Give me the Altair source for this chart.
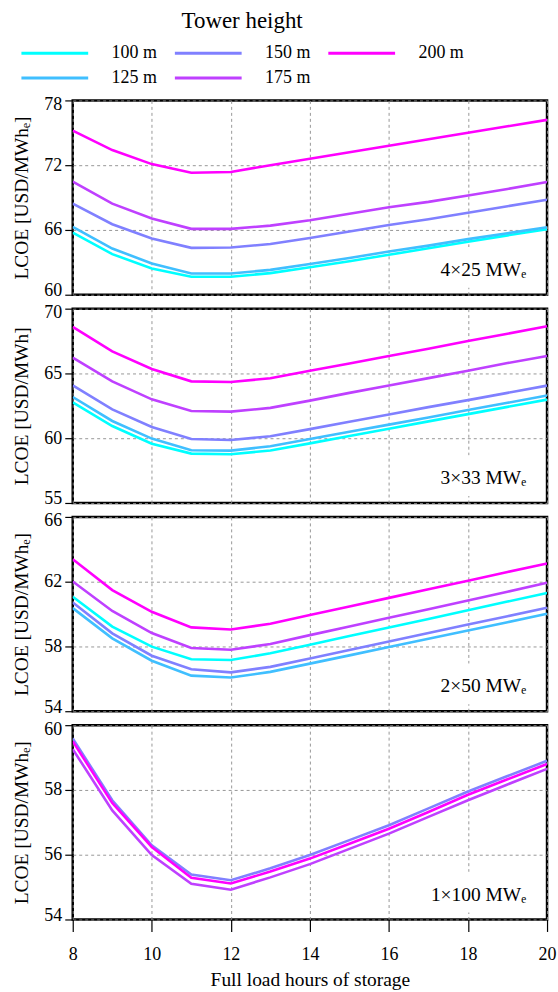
import altair as alt
import pandas as pd

FONT = "Liberation Serif, DejaVu Serif"

hours = list(range(8, 21))
heights = ["100 m", "125 m", "150 m", "175 m", "200 m"]
colors = ["#00FFFF", "#40BFFF", "#8080FF", "#BF40FF", "#FF00FF"]

# Panel 1: 4x25 MWe
p1_100 = [65.76, 63.76, 62.43, 61.66, 61.66, 62.0, 62.55, 63.1, 63.7, 64.3, 64.9, 65.5, 66.07]
p1_125 = [66.29, 64.28, 62.9, 61.97, 61.97, 62.3, 62.85, 63.4, 64.0, 64.55, 65.15, 65.7, 66.25]
p1_150 = [68.44, 66.53, 65.2, 64.34, 64.37, 64.7, 65.25, 65.85, 66.45, 67.0, 67.6, 68.2, 68.8]
p1_175 = [70.48, 68.44, 67.06, 66.1, 66.1, 66.4, 66.9, 67.5, 68.1, 68.6, 69.2, 69.8, 70.45]
p1_200 = [75.2, 73.4, 72.1, 71.3, 71.37, 72.0, 72.6, 73.2, 73.8, 74.4, 75.0, 75.6, 76.2]

# Panel 2: 3x33 MWe
p2_100 = [62.77, 60.94, 59.58, 58.81, 58.76, 59.05, 59.6, 60.17, 60.73, 61.3, 61.86, 62.42, 62.98]
p2_125 = [63.18, 61.33, 59.97, 59.07, 59.04, 59.38, 59.94, 60.5, 61.05, 61.6, 62.17, 62.73, 63.29]
p2_150 = [64.08, 62.23, 60.87, 59.94, 59.86, 60.15, 60.7, 61.27, 61.83, 62.4, 62.94, 63.5, 64.06]
p2_175 = [66.22, 64.39, 63.0, 62.1, 62.05, 62.34, 62.9, 63.5, 64.07, 64.64, 65.2, 65.8, 66.35]
p2_200 = [68.59, 66.7, 65.34, 64.39, 64.34, 64.63, 65.2, 65.77, 66.35, 66.9, 67.5, 68.07, 68.64]

# Panel 3: 2x50 MWe
p3_100 = [61.07, 59.23, 57.99, 57.21, 57.16, 57.58, 58.1, 58.64, 59.17, 59.7, 60.23, 60.77, 61.3]
p3_125 = [60.37, 58.5, 57.12, 56.2, 56.08, 56.43, 56.94, 57.45, 57.97, 58.48, 58.99, 59.5, 60.02]
p3_150 = [60.72, 58.81, 57.43, 56.59, 56.4, 56.74, 57.26, 57.78, 58.3, 58.83, 59.35, 59.87, 60.39]
p3_175 = [62.01, 60.19, 58.83, 57.9, 57.8, 58.15, 58.7, 59.23, 59.77, 60.3, 60.84, 61.38, 61.93]
p3_200 = [63.39, 61.48, 60.14, 59.18, 59.05, 59.4, 59.94, 60.47, 61.0, 61.53, 62.06, 62.6, 63.12]

# Panel 4: 1x100 MWe
p4_150 = [59.59, 57.68, 56.29, 55.39, 55.21, 55.58, 55.99, 56.45, 56.91, 57.43, 57.95, 58.43, 58.9]
p4_175 = [59.26, 57.37, 55.99, 55.1, 54.92, 55.3, 55.71, 56.18, 56.65, 57.17, 57.68, 58.17, 58.65]
p4_200 = [59.5, 57.6, 56.24, 55.29, 55.11, 55.48, 55.88, 56.34, 56.8, 57.32, 57.85, 58.33, 58.8]

panel_labels = ["4×25 MWₑ", "3×33 MWₑ", "2×50 MWₑ", "1×100 MWₑ"]
y_titles = ["LCOE [USD/MWhₑ]", "LCOE [USD/MWh]", "LCOE [USD/MWhₑ]", "LCOE [USD/MWhₑ]"]
y_domains = [[60, 78], [55, 70], [54, 66], [54, 60]]
y_ticks = [[60, 66, 72, 78], [55, 60, 65, 70], [54, 58, 62, 66], [54, 56, 58, 60]]
x_ticks = [8, 10, 12, 14, 16, 18, 20]

panel_series = [
    {"100 m": p1_100, "125 m": p1_125, "150 m": p1_150, "175 m": p1_175, "200 m": p1_200},
    {"100 m": p2_100, "125 m": p2_125, "150 m": p2_150, "175 m": p2_175, "200 m": p2_200},
    {"100 m": p3_100, "125 m": p3_125, "150 m": p3_150, "175 m": p3_175, "200 m": p3_200},
    {"150 m": p4_150, "175 m": p4_175, "200 m": p4_200},
]

W, H = 476, 195


def make_panel(i):
    rows = []
    for h, vals in panel_series[i].items():
        for x, v in zip(hours, vals):
            rows.append({"hours": x, "lcoe": v, "height": h, "order": heights.index(h)})
    df = pd.DataFrame(rows)
    last = i == 3
    if last:
        xaxis = alt.Axis(values=x_ticks, title="Full load hours of storage", grid=True,
                         tickSize=12, labelPadding=14, titleY=66, titleBaseline="alphabetic",
                         labelFlush=False)
    else:
        xaxis = alt.Axis(values=x_ticks, title=None, labels=False, ticks=False, grid=True)
    yaxis = alt.Axis(values=y_ticks[i], title=y_titles[i], tickSize=8, labelPadding=3,
                     labelFlush=True, labelFlushOffset=5,
                     titleX=-51.5, titleY=H / 2, titleAngle=270, titleAlign="center",
                     titleBaseline="middle")
    if i == 0:
        legend = alt.Legend(title="Tower height", orient="none", legendX=-53, legendY=-91,
                            direction="vertical", columns=3,
                            symbolType="M-1,0H7.375", symbolSize=256,
                            symbolStrokeWidth=3, labelFontSize=18, labelFont=FONT,
                            titleFont=FONT, titleFontSize=23, titleFontWeight="normal",
                            titleAnchor="middle", labelOffset=73, columnPadding=11,
                            rowPadding=6, titlePadding=11, padding=0,
                            labelColor="black", titleColor="black")
    else:
        legend = None
    lines = alt.Chart(df).mark_line(strokeWidth=2.6, clip=True).encode(
        x=alt.X("hours:Q", scale=alt.Scale(domain=[8, 20], nice=False, zero=False), axis=xaxis),
        y=alt.Y("lcoe:Q", scale=alt.Scale(domain=y_domains[i], nice=False, zero=False), axis=yaxis),
        color=alt.Color("height:N", scale=alt.Scale(domain=heights, range=colors),
                        legend=legend),
        detail="order:O",
    )
    lab_df = pd.DataFrame({"label": [panel_labels[i]]})
    box = alt.Chart(lab_df).mark_rect(color="white").encode(
        x=alt.value(362), x2=alt.value(462), y=alt.value(147), y2=alt.value(188))
    text = alt.Chart(lab_df).mark_text(align="right", baseline="alphabetic", font=FONT,
                                       fontSize=19.5, color="black").encode(
        text="label:N", x=alt.value(455), y=alt.value(176))
    return alt.layer(box, lines, text).properties(width=W, height=H)


chart = alt.vconcat(*[make_panel(i) for i in range(4)], spacing=14, bounds="flush").resolve_scale(
    color="shared", y="independent"
).configure_view(stroke="black", strokeWidth=2.5).configure_axis(
    gridColor="#8c8c8c", gridDash=[3, 3], gridWidth=0.9, tickColor="black", tickWidth=1.2,
    labelFont=FONT, labelFontSize=18, labelColor="black", titleFont=FONT, titleFontSize=19.5,
    titleFontWeight="normal", titleColor="black", domain=False, labelOverlap=False
).properties(padding={"left": 10, "top": 8, "right": 0, "bottom": 0}, background="white")

chart.save("out.html", embed_options={"renderer": "svg", "actions": False})
